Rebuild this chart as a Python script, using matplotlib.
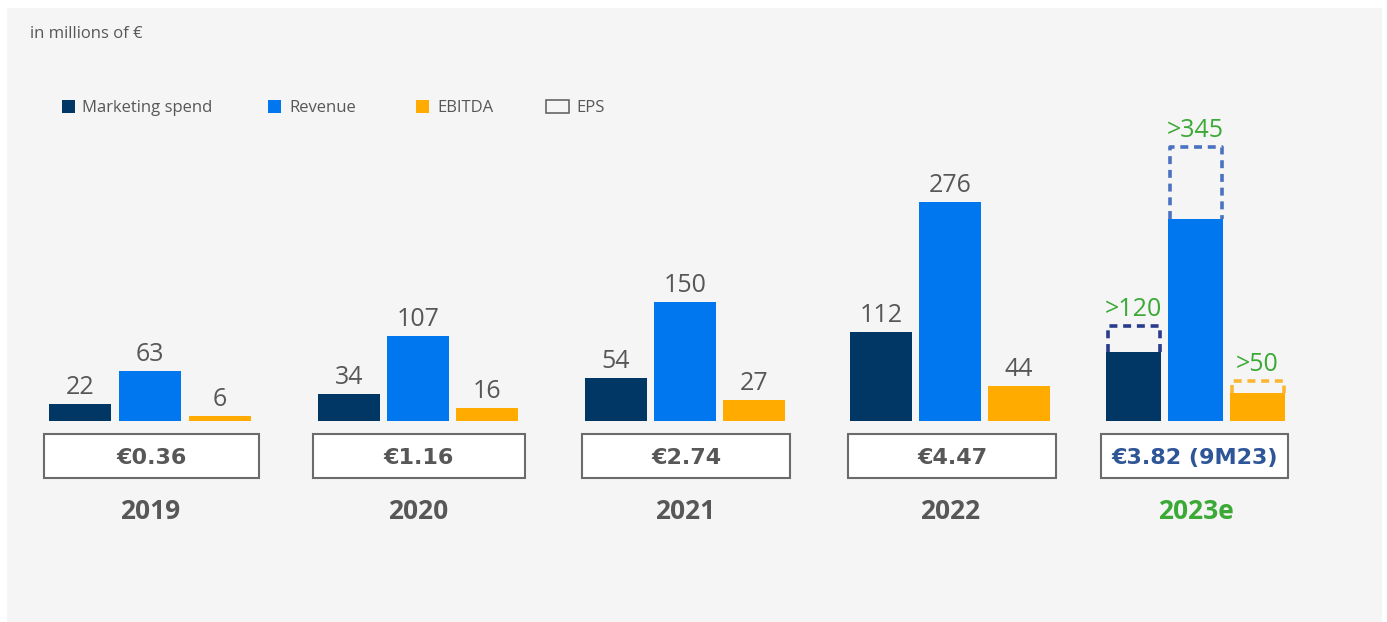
import matplotlib
matplotlib.use("Agg")
import matplotlib.pyplot as plt
from matplotlib.patches import Rectangle

# ---------------- data ----------------
years = ["2019", "2020", "2021", "2022", "2023e"]
marketing = [22, 34, 54, 112, 87]
revenue = [63, 107, 150, 276, 254]
ebitda = [6, 16, 27, 44, 35]
eps_labels = ["€0.36", "€1.16", "€2.74", "€4.47", "€3.82 (9M23)"]
# 2023 targets (dashed outlines)
target_marketing = 120
target_revenue = 345
target_ebitda = 50
target_labels = [">120", ">345", ">50"]

series_names = ["Marketing spend", "Revenue", "EBITDA", "EPS"]

# ---------------- style ----------------
C_MKT = "#003764"
C_REV = "#0077ef"
C_EBI = "#ffab00"
C_MKT_D = "#2a3a8c"
C_REV_D = "#4a72c0"
C_EBI_D = "#fbb634"
C_TXT = "#575757"
C_GREEN = "#3aa935"
C_EPS23 = "#2e5597"
FONT = ["Open Sans", "DejaVu Sans"]
BOLD_FONT = ["DejaVu Sans"]
plt.rcParams["font.family"] = FONT

W, H = 1387, 622
BASE = 421.0          # baseline pixel (from top)
SCALE = 0.795         # pixels per unit

fig = plt.figure(figsize=(W / 100, H / 100), dpi=100)
fig.patch.set_facecolor("white")
ax = fig.add_axes([0, 0, 1, 1])
ax.set_xlim(0, W)
ax.set_ylim(-(H - BASE) / SCALE, BASE / SCALE)
ax.axis("off")


def py(p):
    """pixel from top -> data y"""
    return (BASE - p) / SCALE


px_unit = 1 / SCALE  # one pixel in data-y units

# background panel
ax.add_patch(Rectangle((7, py(622)), 1382 - 7, py(8) - py(622),
                       facecolor="#f5f5f5", edgecolor="none", zorder=0))

# group layout
centers = [150, 418, 685, 950, 1195.5]
widths = [62, 62, 62, 62, 55]
steps = [70, 69, 69, 69, 62]

value_fs = 18
for i in range(len(years)):
    c, w, s = centers[i], widths[i], steps[i]
    xs = [c - s, c, c + s]
    vals = [marketing[i], revenue[i], ebitda[i]]
    cols = [C_MKT, C_REV, C_EBI]
    ax.bar(xs, vals, width=w, color=cols, zorder=2)
    if i < len(years) - 1:
        for x, v in zip(xs, vals):
            ax.text(x, v + 10 * px_unit, str(v), ha="center", va="baseline",
                    fontsize=value_fs, color=C_TXT, zorder=3)
    else:
        targets = [target_marketing, target_revenue, target_ebitda]
        dcols = [C_MKT_D, C_REV_D, C_EBI_D]
        for x, v, t, dc, lab in zip(xs, vals, targets, dcols, target_labels):
            x0, x1 = x - w / 2 + 1.5, x + w / 2 - 1.5
            ax.plot([x0, x0, x1, x1], [v, t, t, v], color=dc, lw=2.6,
                    ls=(0, (2.2, 1.6)), solid_capstyle="butt", zorder=3)
            ax.text(x, t + 10 * px_unit, lab, ha="center", va="baseline",
                    fontsize=value_fs, color=C_GREEN, zorder=3)

# EPS boxes
eps_boxes = [(44, 259), (313, 525), (582, 790), (848, 1056), (1101, 1288)]
for i, (x0, x1) in enumerate(eps_boxes):
    ax.add_patch(Rectangle((x0 + 1, py(479)), x1 - x0, py(435) - py(479),
                           facecolor="#9a9a9a", edgecolor="none", zorder=2))
    ax.add_patch(Rectangle((x0, py(478)), x1 - x0, py(434) - py(478),
                           facecolor="white", edgecolor="#6b6b6b", lw=1.5, zorder=3))
    last = i == len(eps_boxes) - 1
    ax.text((x0 + x1) / 2, py(458), eps_labels[i], ha="center", va="center",
            fontsize=16, fontweight="bold", family=BOLD_FONT,
            color=C_EPS23 if last else C_TXT, zorder=4)
    ax.text(centers[i], py(511.5), years[i], ha="center", va="center",
            fontsize=19, fontweight="bold",
            color=C_GREEN if last else C_TXT, zorder=4)

# unit note
ax.text(30, py(33.5), "in millions of €", ha="left", va="center",
        fontsize=12, color=C_TXT)

# legend
leg_y = 106
leg_items = [(62, 82, C_MKT), (268, 289, C_REV), (416, 437, C_EBI)]
for (sx, tx, col), name in zip(leg_items, series_names[:3]):
    ax.add_patch(Rectangle((sx, py(leg_y + 6.5)), 13, 13 * px_unit,
                           facecolor=col, edgecolor="none"))
    ax.text(tx, py(leg_y + 1.5), name, ha="left", va="center", fontsize=12,
            color=C_TXT)
ax.add_patch(Rectangle((546, py(112.5)), 23, 13 * px_unit,
                       facecolor="none", edgecolor="#666666", lw=1.2))
ax.text(576, py(leg_y + 1.5), series_names[3], ha="left", va="center", fontsize=12,
        color=C_TXT)

fig.savefig("out.png", dpi=100, facecolor="white")
